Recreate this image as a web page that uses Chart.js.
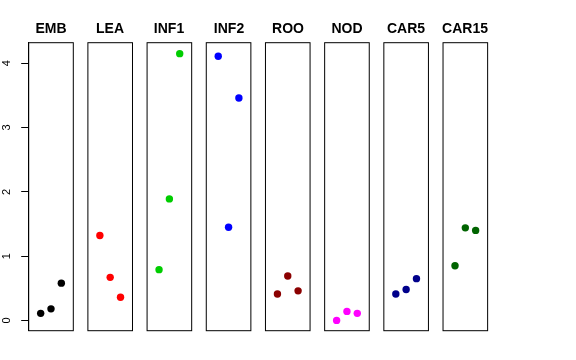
<!DOCTYPE html>
<html>
<head>
<meta charset="utf-8">
<script src="https://cdn.jsdelivr.net/npm/chart.js@4"></script>
<style>
  body { margin: 0; background: #fff; }
  #wrap { position: relative; width: 576px; height: 360px; overflow: hidden; }
  #wrap canvas { position: absolute; top: 0; }
</style>
</head>
<body>
<div id="wrap"></div>
<script>
// Data
const tissues = ['EMB', 'LEA', 'INF1', 'INF2', 'ROO', 'NOD', 'CAR5', 'CAR15'];
const replicates = [1, 2, 3];
const emb = [0.11, 0.18, 0.58];
const lea = [1.32, 0.67, 0.36];
const inf1 = [0.79, 1.89, 4.15];
const inf2 = [4.11, 1.45, 3.46];
const roo = [0.41, 0.69, 0.46];
const nod = [0.00, 0.14, 0.11];
const car5 = [0.41, 0.48, 0.65];
const car15 = [0.85, 1.44, 1.40];
const yTicks = [0, 1, 2, 3, 4];

const seriesValues = [emb, lea, inf1, inf2, roo, nod, car5, car15];
const colors = ['#000000', '#FF0000', '#00CD00', '#0000FF', '#8B0000', '#FF00FF', '#00008B', '#006400'];

const FONT = "'Liberation Sans', Arial, sans-serif";

// x range of each panel box, y range shared
const boxMin = -0.16, boxMax = 4.16;
const yMin = -0.16, yMax = 4.32;

// Panel layout (pixels)
const firstLeft = 28.7;
const panelStep = 59.19;
const panelWidth = 44.6;
const areaTop = 42.7;
const areaBottom = 330.7;
const titleSize = 14;

// draws the box around each panel
const boxPlugin = {
  id: 'box',
  afterDraw(chart) {
    const a = chart.chartArea;
    const x = chart.scales.x;
    const l = x.getPixelForValue(boxMin);
    const r = x.getPixelForValue(boxMax);
    const ctx = chart.ctx;
    ctx.save();
    ctx.strokeStyle = '#000';
    ctx.lineWidth = 1;
    ctx.strokeRect(l, a.top, r - l, a.bottom - a.top);
    ctx.restore();
  }
};

const wrap = document.getElementById('wrap');
const unitsPerPx = (boxMax - boxMin) / panelWidth;

tissues.forEach((name, i) => {
  const panelLeft = firstLeft + i * panelStep;
  const first = i === 0;
  const canvasWidth = first ? 76 : 58;
  const canvasLeft = first ? 0 : Math.round(panelLeft + panelWidth / 2 - canvasWidth / 2);
  // expected chart area in page pixels
  const areaLeft = first ? panelLeft : canvasLeft;
  const areaRight = first ? panelLeft + panelWidth : canvasLeft + canvasWidth;
  const xMin = boxMin - (panelLeft - areaLeft) * unitsPerPx;
  const xMax = boxMax + (areaRight - panelLeft - panelWidth) * unitsPerPx;

  const canvas = document.createElement('canvas');
  canvas.width = canvasWidth;
  canvas.height = 360;
  canvas.style.left = canvasLeft + 'px';
  canvas.style.width = canvasWidth + 'px';
  canvas.style.height = '360px';
  wrap.appendChild(canvas);

  const values = seriesValues[i];

  const yScale = {
    type: 'linear',
    display: first,
    min: yMin,
    max: yMax,
    afterBuildTicks: (scale) => {
      scale.ticks = yTicks.map(v => ({ value: v }));
    },
    border: { display: true, color: '#000', width: 1 },
    grid: {
      drawOnChartArea: false,
      drawTicks: true,
      tickLength: 7.5,
      tickColor: '#000',
      tickWidth: 1
    },
    ticks: {
      color: '#000',
      font: { family: FONT, size: 11 },
      minRotation: 90,
      maxRotation: 90,
      crossAlign: 'center',
      padding: 11
    }
  };
  if (first) {
    yScale.afterFit = (scale) => {
      scale.width = firstLeft;
    };
  }

  new Chart(canvas, {
    type: 'scatter',
    data: {
      datasets: [{
        data: replicates.map((r, j) => ({ x: r, y: values[j] })),
        backgroundColor: colors[i],
        borderWidth: 0,
        pointRadius: 3.7,
        pointHoverRadius: 3.7,
        clip: false
      }]
    },
    options: {
      responsive: false,
      animation: false,
      events: [],
      layout: {
        autoPadding: false,
        padding: {
          top: 0,
          bottom: 360 - areaBottom,
          left: 0,
          right: first ? canvasWidth - areaRight : 0
        }
      },
      plugins: {
        legend: { display: false },
        tooltip: { enabled: false },
        title: {
          display: true,
          text: name,
          fullSize: false,
          color: '#000',
          font: { family: FONT, size: titleSize, weight: 'bold', lineHeight: 1.2 },
          padding: { top: 20.6, bottom: areaTop - 20.6 - titleSize * 1.2 }
        }
      },
      scales: {
        x: {
          type: 'linear',
          display: false,
          min: xMin,
          max: xMax
        },
        y: yScale
      }
    },
    plugins: [boxPlugin]
  });
});
</script>
</body>
</html>
